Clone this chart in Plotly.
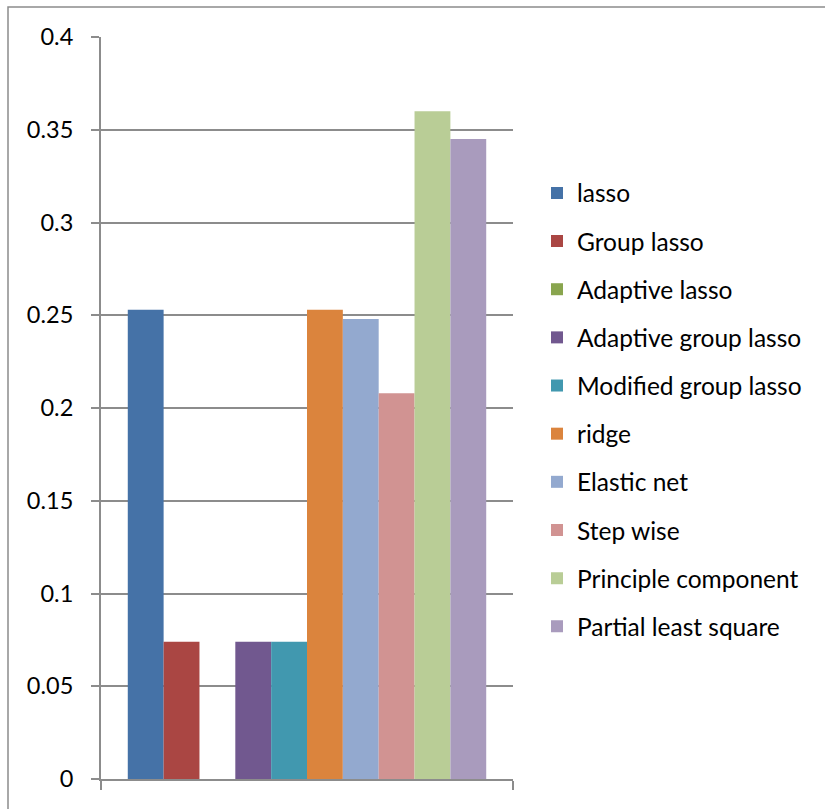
import plotly.graph_objects as go

# Single category, one bar per regression method
category = [""]
methods = [
    "lasso", "Group lasso", "Adaptive lasso", "Adaptive group lasso",
    "Modified group lasso", "ridge", "Elastic net", "Step wise",
    "Principle component", "Partial least square",
]
values = [0.253, 0.074, 0.0, 0.074, 0.074, 0.253, 0.248, 0.208, 0.360, 0.345]
colors = [
    "#4572A7", "#AA4643", "#89A54E", "#71588F", "#4198AF",
    "#DB843D", "#93A9CF", "#D19392", "#B9CD96", "#A99BBD",
]
y_ticks = [0, 0.05, 0.1, 0.15, 0.2, 0.25, 0.3, 0.35, 0.4]
y_tick_text = ["0", "0.05", "0.1", "0.15", "0.2", "0.25", "0.3", "0.35", "0.4"]

FONT = "Lato, 'Open Sans', sans-serif"
GRID = "#8c8c8c"

fig = go.Figure()
for name, v, c in zip(methods, values, colors):
    fig.add_trace(go.Bar(
        x=category, y=[v], name=name, legendgroup=name,
        marker=dict(color=c, line=dict(width=0)),
    ))

W, H = 825, 809
L, R, T, B = 101, 312, 37, 30
pw, ph = W - L - R, H - T - B

fig.update_layout(
    width=W, height=H,
    margin=dict(l=L, r=R, t=T, b=B, pad=0),
    paper_bgcolor="white", plot_bgcolor="white",
    barmode="group", bargap=0.13, bargroupgap=0,
    font=dict(family=FONT, size=23, color="#000000"),
    showlegend=True,
    legend=dict(
        x=(537 - L) / pw, xanchor="left",
        y=(H - B - 410) / ph, yanchor="middle",
        traceorder="grouped", tracegroupgap=13.3,
        font=dict(family=FONT, size=24.5, color="#000000"),
        bgcolor="rgba(0,0,0,0)",
    ),
    xaxis=dict(
        type="category", showgrid=False, showticklabels=False,
        showline=True, linecolor=GRID, linewidth=2,
        ticks="outside", ticklen=9, tickcolor=GRID, tickwidth=2,
        tickson="boundaries", zeroline=False,
    ),
    yaxis=dict(
        range=[0, 0.4], tickvals=y_ticks, ticktext=y_tick_text,
        showgrid=True, gridcolor=GRID, gridwidth=2,
        showline=True, linecolor=GRID, linewidth=2,
        ticks="outside", ticklen=8, tickcolor=GRID, tickwidth=2,
        ticklabelstandoff=13, zeroline=False,
        tickfont=dict(family=FONT, size=23.5, color="#000000"),
    ),
    shapes=[dict(
        type="rect", xref="paper", yref="paper",
        x0=(8 - L) / pw, x1=2.0, y0=-1.0, y1=(H - B - 7) / ph,
        line=dict(color=GRID, width=1.5), fillcolor="rgba(0,0,0,0)",
        layer="below",
    )],
)

fig.write_html("out.html")
